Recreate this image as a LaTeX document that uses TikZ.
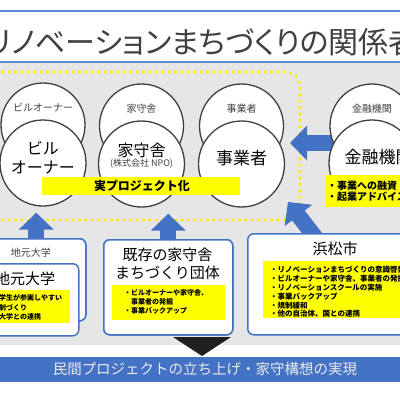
\documentclass[tikz,border=0pt]{standalone}
\usepackage{fontspec}
\setmainfont{Noto Sans CJK JP}
\newfontfamily\titlefont[RawFeature=+palt]{Noto Sans CJK JP}
\usetikzlibrary{arrows.meta,positioning}
\definecolor{slideblue}{RGB}{68,114,196}
\definecolor{lineblue}{RGB}{90,138,212}
\definecolor{slidegray}{RGB}{231,230,230}
\definecolor{markyellow}{RGB}{255,255,0}
\definecolor{dotyellow}{RGB}{255,236,0}
\definecolor{inkgray}{RGB}{64,64,64}
\newcommand{\fs}[2]{\fontsize{#1}{#2}\selectfont}

\begin{document}
\begin{tikzpicture}[x=1pt,y=-1pt,line join=round,
  ring/.style={circle,draw=inkgray,line width=1.3pt,fill=white,inner sep=0pt},
  panel/.style={draw=slideblue,line width=1.5pt,fill=white,rounded corners=6pt,
    anchor=north west,inner sep=0pt},
  note/.style={fill=markyellow,anchor=north west,inner sep=0pt},
  notetext/.style={anchor=west,align=left,inner sep=0pt,text=black},
  bluearrow/.style={draw=slideblue,line width=16pt,
    -{Triangle[length=17pt,width=34pt]}},
  dotline/.style={draw=dotyellow,line width=2.6pt,dash pattern=on 2.6pt off 3.8pt,
    rounded corners=15pt}]
 \clip (0,0) rectangle (400,400);
 \fill[white] (0,0) rectangle (400,400);
 % header
 \draw[lineblue,line width=1.4pt] (0,11) -- (400,11);
 \node[font=\titlefont\fs{30}{34},text=inkgray] (title) at (203,42)
  {リノベーションまちづくりの関係者};
 \draw[lineblue,line width=1.4pt] (0,62) -- (400,62);
 \fill[slidegray] (0,63) rectangle (400,345);
 \draw[dotline] (-5,72) -- (300,72) -- (300,220) -- (-5,220);
 % arrows into the project circle
 \coordinate (lendtail) at (345,143); \coordinate (lendtip) at (290,143);
 \coordinate (citytail) at (322,246); \coordinate (citytip) at (288,202);
 \draw[bluearrow] (lendtail) -- (lendtip);
 \draw[bluearrow] (citytail) -- (citytip);
 % circles
 \node[ring,minimum size=84pt] (ownertop) at (43,125) {};
 \node[ring,minimum size=84pt] (yamoritop) at (141.5,126) {};
 \node[ring,minimum size=84pt] (jigyotop) at (241.5,126) {};
 \node[ring,minimum size=84pt] (kinyutop) at (372,126) {};
 \node[ring,minimum size=86pt] (ownerbig) at (43,163) {};
 \node[ring,minimum size=86pt] (yamoribig) at (141.5,164) {};
 \node[ring,minimum size=86pt] (jigyobig) at (241.5,164) {};
 \node[ring,minimum size=86pt] (kinyubig) at (372,163) {};
 \foreach \n/\t in {ownertop/ビルオーナー,yamoritop/家守舎,jigyotop/事業者,kinyutop/金融機関}
  {\node[font=\fs{10}{12},text=inkgray] at ([yshift=17.5pt]\n.center) {\t};}
 \node[font=\fs{16}{19},text=black,align=center] (ownertxt) at (43,157.5)
  {ビル\\オーナー};
 \node[font=\fs{16}{19},text=black] (yamoritxt) at (141.5,150) {家守舎};
 \node[font=\fs{9}{11},text=inkgray] (yamorisub) at (141.5,164) {(株式会社 NPO)};
 \node[font=\fs{17}{20},text=black] (jigyotxt) at (241.5,158) {事業者};
 \node[font=\fs{17}{20},text=black,anchor=west] (kinyutxt) at (341,157) {金融機関};
 % yellow labels
 \node[note,minimum width=198pt,minimum height=18pt] (realbar) at (42,177) {};
 \node[font=\bfseries\fs{12}{14}] (realtxt) at (142,186) {実プロジェクト化};
 \node[note,minimum width=120pt,minimum height=32pt] (kinyunote) at (325,175) {};
 \node[notetext,font=\bfseries\fs{10}{11}] at (327,191.5)
  {・事業への融資\\・起業アドバイス};
 % lower panels
 \node[panel,minimum width=99pt,minimum height=82pt] (univback) at (-14,238) {};
 \draw[bluearrow,shorten >=6pt] (univback.north) -- (univback.north |- ownerbig.south);
 \node[panel,minimum width=99pt,minimum height=82pt] at (-14,238) {};
 \node[font=\fs{10}{12},text=inkgray] (univsmall) at (31,253) {地元大学};
 \node[panel,minimum width=98pt,minimum height=72pt] (univ) at (-20,263) {};
 \node[font=\fs{15}{18},text=black] (univtxt) at (25,279) {地元大学};
 \node[note,minimum width=90pt,minimum height=33pt] (univnote) at (-20,290) {};
 \node[notetext,font=\bfseries\fs{7}{9.5}] at (-15,307.5)
  {・大学生が参画しやすい\\　体制づくり\\・他大学との連携};
 \node[panel,minimum width=129pt,minimum height=95pt] (kizon) at (103,239) {};
 \draw[bluearrow,shorten >=6pt] (kizon.north) -- (kizon.north |- yamoribig.south);
 \node[panel,minimum width=129pt,minimum height=95pt] at (103,239) {};
 \node[font=\fs{15}{18},text=black,align=center] (kizontxt) at (167.5,264)
  {既存の家守舎\\まちづくり団体};
 \node[note,minimum width=113pt,minimum height=35pt] (kizonnote) at (112,285) {};
 \node[notetext,font=\bfseries\fs{7}{9}] at (124,302)
  {・ビルオーナーや家守舎、\\　事業者の発掘\\・事業バックアップ};
 \node[panel,minimum width=223pt,minimum height=101pt] (city) at (247,233) {};
 \node[font=\fs{15}{18},text=black] (citytxt) at (335,249) {浜松市};
 \node[note,minimum width=200pt,minimum height=57pt] (citynote) at (263,261) {};
 \node[notetext,font=\bfseries\fs{7.5}{8.8}] at (270,292)
  {・リノベーションまちづくりの意識啓発\\・ビルオーナーや家守舎、事業者の発掘\\
   ・リノベーションスクールの実施\\・事業バックアップ\\・規制緩和\\
   ・他の自治体、国との連携};
 % result
 \fill[black!88] (173,337) -- (231,337) -- (202,356) -- cycle;
 \fill[slideblue] (0,357) rectangle (400,382);
 \node[font=\fs{14.5}{17},text=white!92!black] (goal) at (205,369.5)
  {民間プロジェクトの立ち上げ・家守構想の実現};
\end{tikzpicture}
\end{document}
